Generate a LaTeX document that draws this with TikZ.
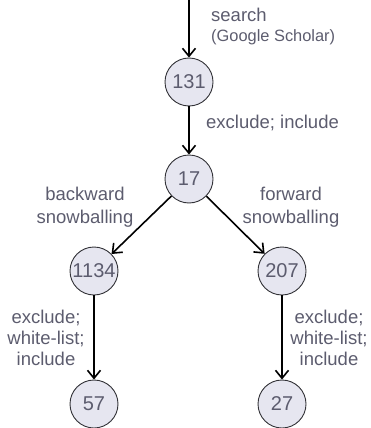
\documentclass[tikz,border=0pt]{standalone}
\usepackage{fontspec}
\setmainfont{Liberation Sans}
\usetikzlibrary{arrows.meta}
\definecolor{txt}{RGB}{92,92,110}
\definecolor{cfill}{RGB}{230,230,240}
\definecolor{cdraw}{RGB}{50,50,55}
\begin{document}
\begin{tikzpicture}[x=1pt,y=-1pt,
  cnode/.style={circle,draw=cdraw,line width=0.9pt,fill=cfill,minimum size=48pt,inner sep=0pt,
    text=txt,font=\fontsize{20}{22}\selectfont},
  lbl/.style={text=txt,font=\fontsize{18.5}{21}\selectfont,inner sep=0pt},
  arr/.style={line width=1.6pt,-{Straight Barb[length=8pt,width=13pt,line width=1.6pt]}}]
\useasboundingbox (0,0) rectangle (371,428);
\coordinate (top) at (189,0);
\node[cnode] (n131) at (189,82) {131};
\node[cnode] (n17) at (189,179) {17};
\node[cnode] (n1134) at (94,271) {1134};
\node[cnode] (n207) at (282,271) {207};
\node[cnode] (n57) at (94,404) {57};
\node[cnode] (n27) at (282,404) {27};
\draw[arr] (top) -- (n131);
\draw[arr] (n131) -- (n17);
\draw[arr] (n17) -- (n1134);
\draw[arr] (n17) -- (n207);
\draw[arr] (n1134) -- (n57);
\draw[arr] (n207) -- (n27);
\node[lbl,anchor=west] (ls) at (211,15) {search};
\node[lbl,anchor=west,font=\fontsize{16.4}{19}\selectfont] (lg) at (211,37) {(Google Scholar)};
\node[lbl,anchor=west] (lei) at (206,123) {exclude; include};
\node[lbl,align=center,font=\fontsize{18.5}{23}\selectfont] (lb) at (85,207) {backward\\snowballing};
\node[lbl,align=center,font=\fontsize{18.5}{23}\selectfont] (lf) at (291,207) {forward\\snowballing};
\node[lbl,align=center] (ll) at (46,338) {exclude;\\white-list;\\include};
\node[lbl,align=center] (lr) at (329,338) {exclude;\\white-list;\\include};
\end{tikzpicture}
\end{document}
